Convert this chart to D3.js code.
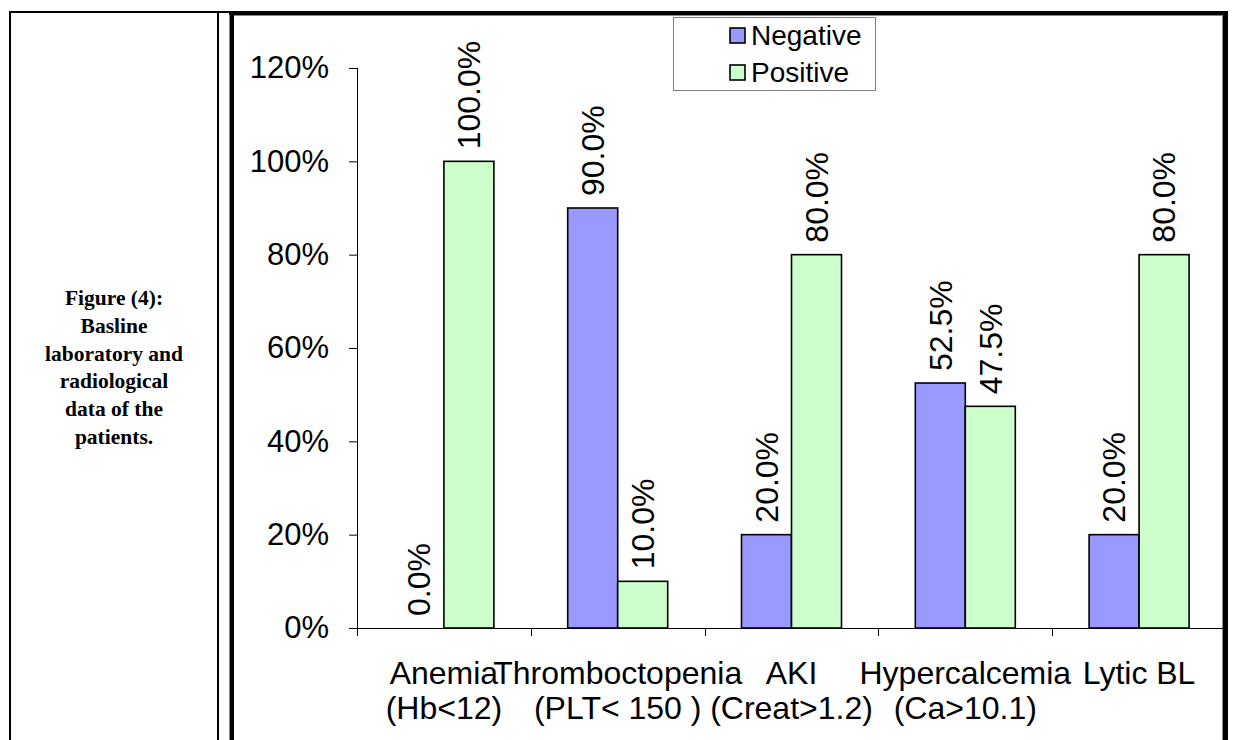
<!DOCTYPE html>
<html>
<head>
<meta charset="utf-8">
<script src="https://cdn.jsdelivr.net/npm/d3@7"></script>
<style>
  html, body { margin: 0; padding: 0; background: #fff; }
  svg { display: block; }
</style>
</head>
<body>
<svg id="fig" width="1233" height="740"></svg>
<script>
// Chart data
const categories = ["Anemia", "Thromboctopenia", "AKI", "Hypercalcemia", "Lytic BL"];
const categorySubLabels = ["(Hb<12)", "(PLT< 150 )", "(Creat>1.2)", "(Ca>10.1)", ""];
const seriesNames = ["Negative", "Positive"];
const negativeValues = [0.0, 90.0, 20.0, 52.5, 20.0];
const positiveValues = [100.0, 10.0, 80.0, 47.5, 80.0];
const yTickValues = [0, 20, 40, 60, 80, 100, 120];
const captionLines = ["Figure (4):", "Basline", "laboratory and", "radiological", "data of the", "patients."];

const colors = { Negative: "#9999FF", Positive: "#CCFFCC" };
const sansFont = "'Liberation Sans', Arial, sans-serif";
const serifFont = "'Liberation Serif', 'Times New Roman', serif";

const svg = d3.select("#fig");

// ---- table frame ----
const frame = svg.append("g");
// outer left and top rules of the table
frame.append("rect").attr("x", 9).attr("y", 11).attr("width", 2).attr("height", 729).attr("fill", "#000");
frame.append("rect").attr("x", 9).attr("y", 11).attr("width", 1219).attr("height", 2).attr("fill", "#000");
// thin rule after the caption cell
frame.append("rect").attr("x", 217).attr("y", 11).attr("width", 2).attr("height", 729).attr("fill", "#000");
// heavy border of the chart cell
frame.append("rect").attr("x", 229).attr("y", 11).attr("width", 1).attr("height", 729).attr("fill", "#888");
frame.append("rect").attr("x", 230).attr("y", 11).attr("width", 4).attr("height", 729).attr("fill", "#000");
frame.append("rect").attr("x", 229).attr("y", 11).attr("width", 999).attr("height", 4).attr("fill", "#000");
frame.append("rect").attr("x", 234).attr("y", 15).attr("width", 988).attr("height", 1).attr("fill", "#888");
frame.append("rect").attr("x", 1222).attr("y", 15).attr("width", 1).attr("height", 725).attr("fill", "#888");
frame.append("rect").attr("x", 1223).attr("y", 11).attr("width", 5).attr("height", 729).attr("fill", "#000");

// ---- caption cell ----
const caption = svg.append("text")
  .attr("x", 114)
  .attr("y", 305)
  .attr("text-anchor", "middle")
  .attr("font-family", serifFont)
  .attr("font-weight", "bold")
  .attr("font-size", 21.5)
  .attr("fill", "#000");
caption.selectAll("tspan").data(captionLines).join("tspan")
  .attr("x", 114)
  .attr("dy", (d, i) => i === 0 ? 0 : 27.8)
  .text(d => d);

// ---- chart ----
const plot = { left: 357, right: 1226, top: 68, bottom: 628 };

const x = d3.scaleBand().domain(categories).range([plot.left, plot.right]).paddingInner(0).paddingOuter(0);
const barWidth = 50;
const xSeries = d3.scaleBand().domain(seriesNames)
  .range([-barWidth, barWidth]).paddingInner(0).paddingOuter(0);
const y = d3.scaleLinear().domain([0, 120]).range([plot.bottom, plot.top]);

const rows = categories.map((c, i) => ({
  category: c,
  values: [
    { series: "Negative", value: negativeValues[i] },
    { series: "Positive", value: positiveValues[i] }
  ]
}));

// bars
const groups = svg.append("g").selectAll("g").data(rows).join("g")
  .attr("transform", d => `translate(${x(d.category) + x.bandwidth() / 2},0)`);

groups.selectAll("rect").data(d => d.values).join("rect")
  .attr("x", d => xSeries(d.series))
  .attr("y", d => y(d.value))
  .attr("width", xSeries.bandwidth())
  .attr("height", d => plot.bottom - y(d.value))
  .attr("fill", d => colors[d.series])
  .attr("stroke", "#000")
  .attr("stroke-width", 1.6);

// value labels, rotated
groups.selectAll("text.val").data(d => d.values).join("text")
  .attr("class", "val")
  .attr("transform", d => `translate(${xSeries(d.series) + xSeries.bandwidth() / 2},${y(d.value) - 12}) rotate(-90)`)
  .attr("dy", "0.35em")
  .attr("text-anchor", "start")
  .attr("font-family", sansFont)
  .attr("font-size", 32)
  .attr("fill", "#000")
  .text(d => d.value.toFixed(1) + "%");

// y axis
const yAxis = d3.axisLeft(y)
  .tickValues(yTickValues)
  .tickSize(8)
  .tickPadding(20)
  .tickFormat(d => d + "%");
const yg = svg.append("g").attr("transform", `translate(${plot.left},0)`).call(yAxis);
yg.select(".domain").attr("stroke", "#000").attr("d", `M0.5,${plot.top}V${plot.bottom}`);
yg.selectAll(".tick line").attr("stroke", "#000");
yg.selectAll(".tick text")
  .attr("font-family", sansFont)
  .attr("font-size", 31)
  .attr("fill", "#000");

// x axis with ticks on category boundaries
const xg = svg.append("g").attr("transform", `translate(0,${plot.bottom})`);
xg.append("line")
  .attr("x1", plot.left - 8).attr("x2", 1223)
  .attr("y1", 0.5).attr("y2", 0.5)
  .attr("stroke", "#000");
const boundaries = categories.map(c => x(c));
xg.selectAll("line.tick").data(boundaries).join("line")
  .attr("class", "tick")
  .attr("x1", d => Math.round(d) + 0.5).attr("x2", d => Math.round(d) + 0.5)
  .attr("y1", 0).attr("y2", 8)
  .attr("stroke", "#000");

// category labels (two lines)
const catText = svg.append("g").selectAll("text").data(categories).join("text")
  .attr("x", c => x(c) + x.bandwidth() / 2)
  .attr("y", 684)
  .attr("text-anchor", "middle")
  .attr("font-family", sansFont)
  .attr("font-size", 32)
  .attr("fill", "#000");
catText.append("tspan").attr("x", c => x(c) + x.bandwidth() / 2).text(c => c);
catText.append("tspan").attr("x", c => x(c) + x.bandwidth() / 2).attr("dy", 35)
  .text((c, i) => categorySubLabels[i]);

// legend
const legend = svg.append("g").attr("transform", "translate(673,17)");
legend.append("rect")
  .attr("x", 0.5).attr("y", 0.5).attr("width", 202).attr("height", 73)
  .attr("fill", "#fff").attr("stroke", "#808080").attr("stroke-width", 1);
const items = legend.selectAll("g.item").data(seriesNames).join("g")
  .attr("class", "item")
  .attr("transform", (d, i) => `translate(57,${11 + i * 37})`);
items.append("rect")
  .attr("width", 15).attr("height", 15)
  .attr("fill", d => colors[d])
  .attr("stroke", "#000").attr("stroke-width", 1.6);
items.append("text")
  .attr("x", 21).attr("y", 17)
  .attr("font-family", sansFont)
  .attr("font-size", 28)
  .attr("fill", "#000")
  .text(d => d);
</script>
</body>
</html>
